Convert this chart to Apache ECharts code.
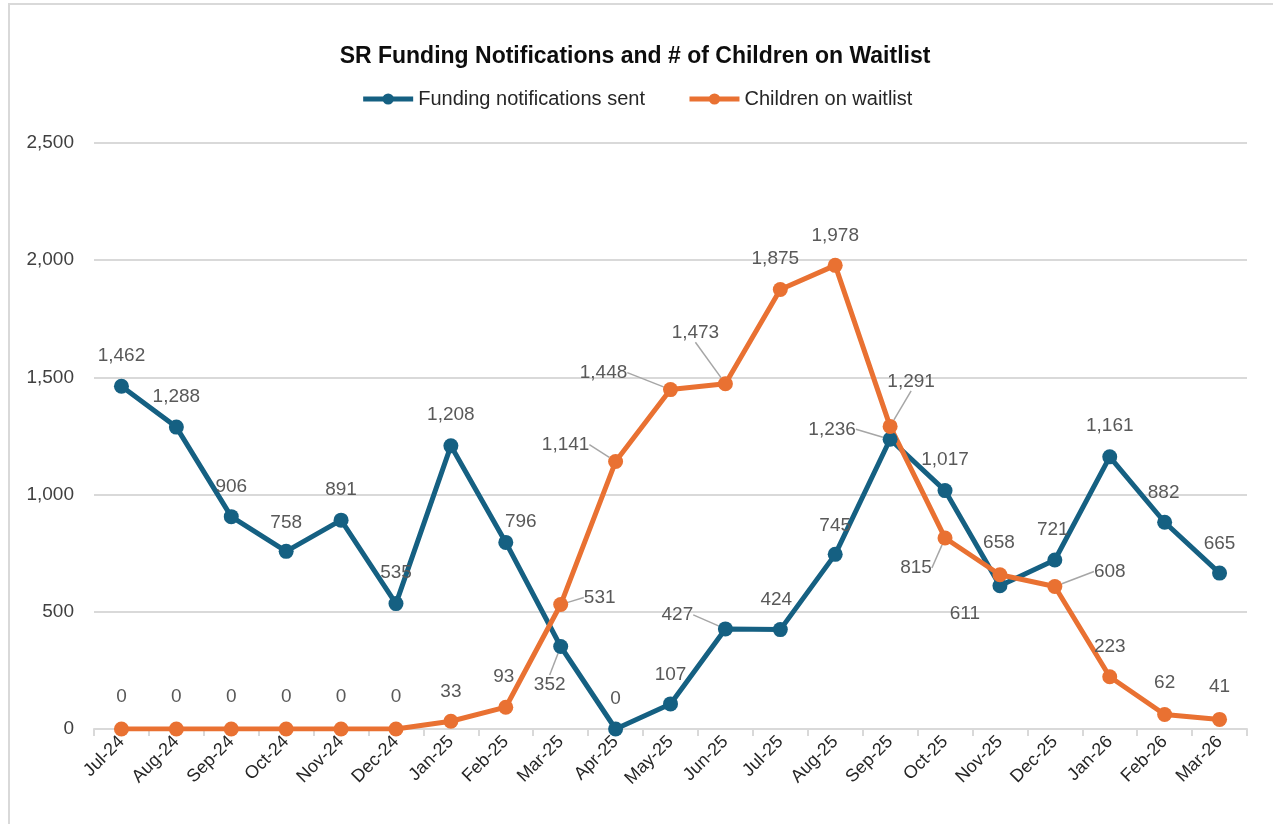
<!DOCTYPE html>
<html>
<head>
<meta charset="utf-8">
<title>SR Funding Notifications and # of Children on Waitlist</title>
<script src="https://cdn.jsdelivr.net/npm/echarts@6/dist/echarts.min.js"></script>
<style>
  html, body { margin: 0; padding: 0; background: #fff; overflow: hidden; }
  #frame { position: absolute; left: 8px; top: 3px; width: 1300px; height: 840px;
           border-left: 2px solid #d9d9d9; border-top: 2px solid #d9d9d9; }
  #chart { position: absolute; left: 0; top: 0; width: 1273px; height: 824px; }
</style>
</head>
<body>
<div id="frame"></div>
<div id="chart"></div>
<script>
var months = ['Jul-24', 'Aug-24', 'Sep-24', 'Oct-24', 'Nov-24', 'Dec-24', 'Jan-25', 'Feb-25',
              'Mar-25', 'Apr-25', 'May-25', 'Jun-25', 'Jul-25', 'Aug-25', 'Sep-25', 'Oct-25',
              'Nov-25', 'Dec-25', 'Jan-26', 'Feb-26', 'Mar-26'];
var fundingSent = [1462, 1288, 906, 758, 891, 535, 1208, 796, 352, 0, 107, 427, 424, 745,
                   1236, 1017, 611, 721, 1161, 882, 665];
var onWaitlist = [0, 0, 0, 0, 0, 0, 33, 93, 531, 1141, 1448, 1473, 1875, 1978, 1291, 815,
                  658, 608, 223, 62, 41];
var yTicks = [0, 500, 1000, 1500, 2000, 2500];

// where each data label sits, relative to its point (px)
var fundLabelPos = [[0, -31], [0, -30], [0, -30], [0, -29], [0, -30], [0, -31], [0, -31],
                    [15, -21], [-11, 38], [0, -30], [0, -29], [-48, -14], [-4, -30], [0, -29],
                    [-58, -10], [0, -31], [-35, 28], [-2, -30], [0, -31], [-1, -29], [0, -29]];
var waitLabelPos = [[0, -32], [0, -32], [0, -32], [0, -32], [0, -32], [0, -32], [0, -29],
                    [-2, -30], [39, -7], [-50, -17], [-67, -17], [-30, -51], [-5, -31], [0, -30],
                    [21, -45], [-29, 30], [-1, -32], [55, -15], [0, -30], [0, -32], [0, -33]];
var fundLeaders = [8, 11, 14];
var waitLeaders = [8, 9, 10, 11, 14, 15, 17];

function withLeaders(values, leaders) {
    return values.map(function (v, i) {
        return leaders.indexOf(i) >= 0 ? { value: v, labelLine: { show: true } } : v;
    });
}

var chart = echarts.init(document.getElementById('chart'));
var labelFont = 'Liberation Sans, Arial, sans-serif';

var option = {
    animation: false,
    title: {
        text: 'SR Funding Notifications and # of Children on Waitlist',
        left: 630,
        textAlign: 'center',
        top: 40,
        textStyle: { fontFamily: labelFont, fontSize: 23, fontWeight: 'bold', color: '#0d0d0d' }
    },
    legend: {
        top: 84,
        left: 'center',
        itemWidth: 50,
        itemHeight: 14,
        itemGap: 42,
        lineStyle: { width: 5 },
        textStyle: { fontFamily: labelFont, fontSize: 20, color: '#262626' },
        data: ['Funding notifications sent', 'Children on waitlist']
    },
    grid: { left: 94, right: 26, top: 143, bottom: 95 },
    xAxis: {
        type: 'category',
        data: months,
        axisLine: { lineStyle: { color: '#d9d9d9', width: 2 } },
        axisTick: { show: true, length: 7, lineStyle: { color: '#d9d9d9', width: 2 } },
        axisLabel: { rotate: 45, margin: 10, fontFamily: labelFont, fontSize: 18, color: '#262626' }
    },
    yAxis: {
        type: 'value',
        min: yTicks[0],
        max: yTicks[yTicks.length - 1],
        interval: yTicks[1] - yTicks[0],
        axisLine: { show: false },
        axisTick: { show: false },
        axisLabel: {
            margin: 20,
            fontFamily: labelFont,
            fontSize: 19,
            color: '#404040',
            formatter: function (v) { return v.toLocaleString('en-US'); }
        },
        splitLine: { lineStyle: { color: '#d9d9d9', width: 2 } }
    },
    series: [
        {
            name: 'Funding notifications sent',
            type: 'line',
            data: withLeaders(fundingSent, fundLeaders),
            symbol: 'circle',
            symbolSize: 15,
            lineStyle: { width: 5, color: '#156082' },
            itemStyle: { color: '#156082' },
            label: {
                show: true,
                position: 'inside',
                fontFamily: labelFont,
                fontSize: 19,
                color: '#595959',
                formatter: function (p) { return p.value.toLocaleString('en-US'); }
            },
            labelLine: { show: false, lineStyle: { color: '#a6a6a6', width: 1.5 } },
            labelLayout: function (p) {
                var o = fundLabelPos[p.dataIndex];
                return { dx: o[0], dy: o[1] };
            }
        },
        {
            name: 'Children on waitlist',
            type: 'line',
            data: withLeaders(onWaitlist, waitLeaders),
            symbol: 'circle',
            symbolSize: 15,
            lineStyle: { width: 5, color: '#e97132' },
            itemStyle: { color: '#e97132' },
            label: {
                show: true,
                position: 'inside',
                fontFamily: labelFont,
                fontSize: 19,
                color: '#595959',
                formatter: function (p) { return p.value.toLocaleString('en-US'); }
            },
            labelLine: { show: false, lineStyle: { color: '#a6a6a6', width: 1.5 } },
            labelLayout: function (p) {
                var o = waitLabelPos[p.dataIndex];
                return { dx: o[0], dy: o[1] };
            }
        }
    ]
};

chart.setOption(option);
window.addEventListener('resize', chart.resize);
</script>
</body>
</html>
